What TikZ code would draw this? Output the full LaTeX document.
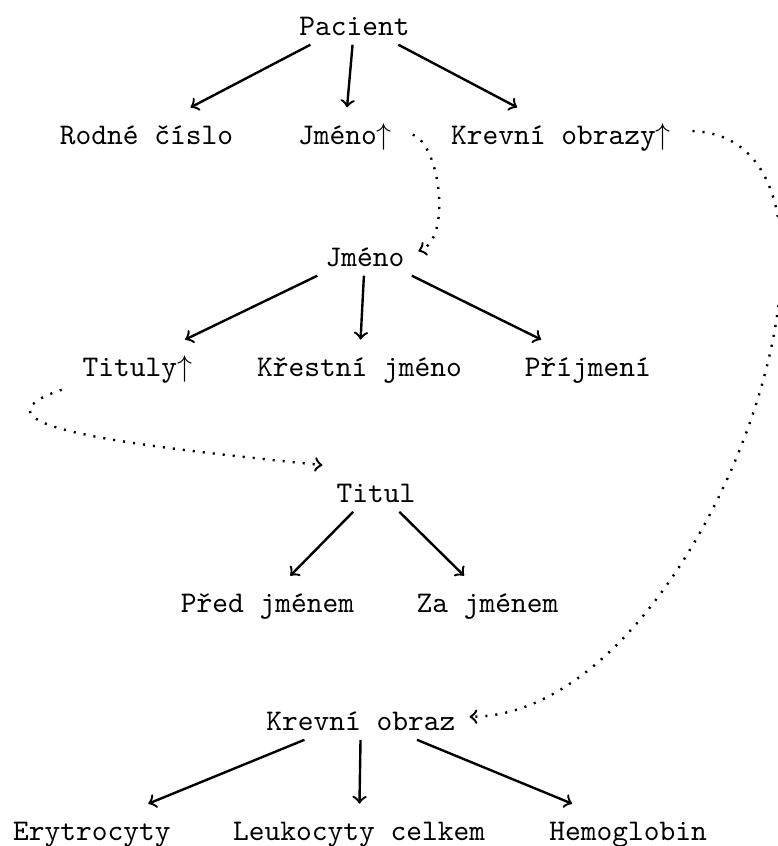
\documentclass[tikz,border=0pt]{standalone}
\usepackage{tikz}
\usetikzlibrary{positioning}

\begin{document}
\begin{tikzpicture}[
	every node/.style={font=\ttfamily, text height=9pt, text depth=0pt, inner sep=3pt},
	on grid,
	childarrow/.style={->, thick},
	refarrow/.style={->, thick, dash pattern=on .7pt off 2.65pt,
			shorten <=4pt, shorten >=1.5pt}
	]
	\useasboundingbox (0,0) rectangle (259.33pt,-282pt);

	\node (pacient) at (118.2pt,-7.2pt) {Pacient};
	\node[below left=36.3pt and 69.4pt of pacient] (rodne) {Rodné číslo};
	\node[below left=36.3pt and 3.2pt of pacient] (jmenoref) {Jméno$\uparrow$};
	\node[below right=36.3pt and 68.8pt of pacient] (obrazyref) {Krevní obrazy$\uparrow$};

	\node[below right=77pt and 3.5pt of pacient] (jmeno) {Jméno};
	\node[below left=36.7pt and 75.9pt of jmeno] (tituly) {Tituly$\uparrow$};
	\node[below left=36.7pt and 1.9pt of jmeno] (krestni) {Křestní jméno};
	\node[below right=36.7pt and 74.3pt of jmeno] (prijmeni) {Příjmení};

	\node[below right=78.7pt and 3.6pt of jmeno] (titul) {Titul};
	\node[below left=36.7pt and 36.1pt of titul] (pred) {Před jménem};
	\node[below right=36.7pt and 37.2pt of titul] (za) {Za jménem};

	\node[below left=76pt and 5pt of titul] (obraz) {Krevní obraz};
	\node[below left=36.7pt and 89.7pt of obraz] (erytro) {Erytrocyty};
	\node[below left=36.7pt and .6pt of obraz] (leuko) {Leukocyty celkem};
	\node[below right=36.7pt and 89.1pt of obraz] (hemo) {Hemoglobin};

	\foreach \from/\to in {pacient/rodne, pacient/jmenoref, pacient/obrazyref,
			jmeno/tituly, jmeno/krestni, jmeno/prijmeni,
			titul/pred, titul/za,
			obraz/erytro, obraz/leuko, obraz/hemo}
		\draw[childarrow] (\from) -- (\to);

	\draw[refarrow] (jmenoref.east) to[out=-20, in=20, looseness=.85] (jmeno.east);
	\draw[refarrow] (tituly.south west) .. controls +(-38pt,-13pt) and +(-69pt,7pt) .. (titul.north west);
	\draw[refarrow] (obrazyref.east) .. controls +(74pt,-3pt) and +(80pt,0pt) .. (obraz.east);

\end{tikzpicture}
\end{document}
